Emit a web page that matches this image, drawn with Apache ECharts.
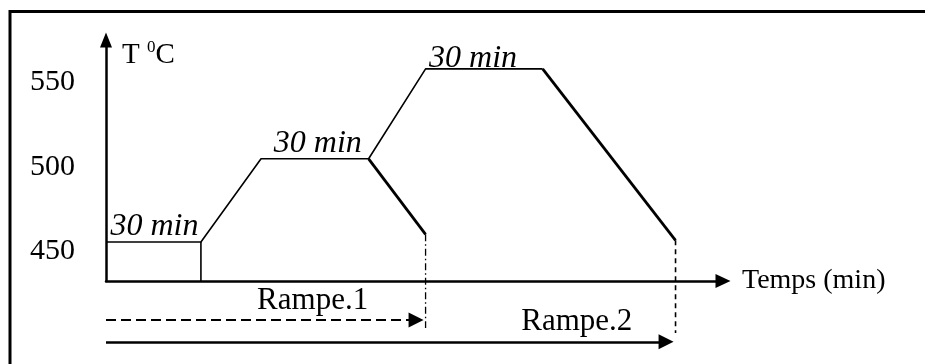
<!DOCTYPE html>
<html>
<head>
<meta charset="utf-8">
<script src="https://cdn.jsdelivr.net/npm/echarts@6/dist/echarts.min.js"></script>
<style>
    html, body {margin: 0; padding: 0; background: #fff;}
    #chart {width: 925px; height: 364px;}
</style>
</head>
<body>
<div id="chart"></div>
<script>
// temperature tick labels
const tempTicks = [450, 500, 550];

// heating profile: time (min, schematic) / temperature
const profileTime = [0, 30, 49, 83, 101, 138];
const profileTemp = [453, 453, 502, 502, 555, 555];

// cooling branches
const cool1Time = [83, 101];
const cool1Temp = [502, 457.5];
const cool2Time = [138, 180];
const cool2Temp = [555, 454];

// holding plateaus
const plateauText = ['30 min', '30 min', '30 min'];
const plateauStart = [0, 49, 101];
const plateauEnd = [30, 83, 138];
const plateauTemp = [453, 502, 555];

// ramps shown under the time axis
const rampNames = ['Rampe.1', 'Rampe.2'];
const rampArrowEnd = [98, 177];
const rampArrowTemp = [407, 394.2];
const rampDropEnd = [402.3, 399.4];
const rampLabelTime = [65.3, 148.8];
const rampLabelTemp = [418.5, 406];

const yMin = 430, yMax = 572;
const xMin = 0, xMax = 195;

const serif = 'Liberation Serif';
const zip = (a, b) => a.map((v, i) => [v, b[i]]);
// nudges for the "30 min" texts so they sit like in the drawing
const plateauLabelOffset = [[1, -15], [3, -15], [-11, -10]];

let chart = echarts.init(document.getElementById('chart'));

let option = {
    animation: false,
    backgroundColor: '#fff',
    grid: {left: 106, right: 202, top: 40, bottom: 83},
    graphic: [{
        type: 'polyline',
        shape: {points: [[10, 364], [10, 11.5], [925, 11.5]]},
        style: {stroke: '#000', lineWidth: 3, fill: null}
    }],
    xAxis: {
        type: 'value',
        min: xMin,
        max: xMax,
        name: 'Temps (min)',
        nameLocation: 'end',
        nameGap: 19,
        nameTextStyle: {fontFamily: serif, fontSize: 28, color: '#000'},
        axisLine: {
            show: true,
            symbol: ['none', 'triangle'],
            symbolSize: [14, 15],
            lineStyle: {color: '#000', width: 2.5}
        },
        axisTick: {show: false},
        axisLabel: {show: false},
        splitLine: {show: false}
    },
    yAxis: {
        type: 'value',
        min: yMin,
        max: yMax,
        name: '{t|T }{s|0}{t|C}',
        nameLocation: 'end',
        nameGap: -15,
        nameTextStyle: {
            align: 'left',
            verticalAlign: 'middle',
            padding: [0, 0, 0, 16],
            rich: {
                t: {fontFamily: serif, fontSize: 29, color: '#000', lineHeight: 32},
                s: {fontFamily: serif, fontSize: 17, color: '#000', verticalAlign: 'top', lineHeight: 32}
            }
        },
        axisLine: {
            show: true,
            symbol: ['none', 'triangle'],
            symbolSize: [12, 15],
            lineStyle: {color: '#000', width: 2.5}
        },
        axisTick: {show: false},
        splitLine: {show: false},
        axisLabel: {
            customValues: tempTicks,
            margin: 31,
            formatter: '{v|{value}}',
            rich: {
                v: {fontFamily: serif, fontSize: 30, color: '#000', padding: [9, 0, 0, 0]}
            }
        }
    },
    series: [
        {
            name: 'profil',
            type: 'line',
            data: zip(profileTime, profileTemp),
            symbol: 'none',
            clip: false,
            lineStyle: {color: '#000', width: 1.6}
        },
        {
            name: 'refroidissement 1',
            type: 'line',
            data: zip(cool1Time, cool1Temp),
            symbol: 'none',
            clip: false,
            lineStyle: {color: '#000', width: 2.8}
        },
        {
            name: 'refroidissement 2',
            type: 'line',
            data: zip(cool2Time, cool2Temp),
            symbol: 'none',
            clip: false,
            lineStyle: {color: '#000', width: 2.8}
        },
        {
            name: 'fin palier 1',
            type: 'line',
            data: [[plateauEnd[0], plateauTemp[0]], [plateauEnd[0], yMin]],
            symbol: 'none',
            clip: false,
            lineStyle: {color: '#000', width: 1.6}
        },
        {
            name: 'fin rampe 1',
            type: 'line',
            data: [[cool1Time[1], cool1Temp[1]], [cool1Time[1], rampDropEnd[0]]],
            symbol: 'none',
            clip: false,
            lineStyle: {color: '#000', width: 1.3, type: [7, 3, 1.5, 3]}
        },
        {
            name: 'fin rampe 2',
            type: 'line',
            data: [[cool2Time[1], cool2Temp[1]], [cool2Time[1], rampDropEnd[1]]],
            symbol: 'none',
            clip: false,
            lineStyle: {color: '#000', width: 1.6, type: [5, 4]}
        },
        {
            name: 'rampes',
            type: 'lines',
            coordinateSystem: 'cartesian2d',
            clip: false,
            symbol: ['none', 'triangle'],
            symbolSize: [14, 15],
            lineStyle: {color: '#000', opacity: 1},
            data: [
                {
                    coords: [[xMin, rampArrowTemp[0]], [rampArrowEnd[0], rampArrowTemp[0]]],
                    lineStyle: {color: '#000', opacity: 1, width: 2, type: [10, 5]}
                },
                {
                    coords: [[xMin, rampArrowTemp[1]], [rampArrowEnd[1], rampArrowTemp[1]]],
                    lineStyle: {color: '#000', opacity: 1, width: 2.5, type: 'solid'}
                }
            ]
        },
        {
            name: 'paliers',
            type: 'scatter',
            symbolSize: 0,
            clip: false,
            itemStyle: {opacity: 1},
            data: plateauText.map((t, i) => ({
                value: [(plateauStart[i] + plateauEnd[i]) / 2, plateauTemp[i]],
                name: t,
                label: {offset: plateauLabelOffset[i]}
            })),
            label: {
                show: true,
                position: 'inside',
                formatter: (p) => p.name,
                fontFamily: serif,
                fontStyle: 'italic',
                fontSize: 32,
                color: '#000'
            }
        },
        {
            name: 'noms rampes',
            type: 'scatter',
            symbolSize: 0,
            clip: false,
            itemStyle: {opacity: 1},
            data: rampNames.map((n, i) => ({
                value: [rampLabelTime[i], rampLabelTemp[i]],
                name: n
            })),
            label: {
                show: true,
                position: 'inside',
                formatter: (p) => p.name,
                fontFamily: serif,
                fontSize: 31,
                color: '#000'
            }
        }
    ]
};

chart.setOption(option);
</script>
</body>
</html>
